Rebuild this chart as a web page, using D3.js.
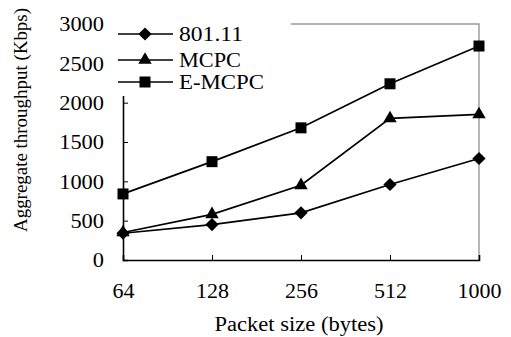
<!DOCTYPE html>
<html><head><meta charset="utf-8">
<script src="https://cdn.jsdelivr.net/npm/d3@7"></script>
<style>body{margin:0;background:#fff}svg{display:block}text{font-family:"Liberation Serif","Times New Roman",serif;fill:#000}</style>
</head><body>
<svg id="c" width="511" height="337"></svg>
<script>
const categories = ["64","128","256","512","1000"];
const s80211 = [340, 450, 600, 960, 1290];
const sMCPC = [350, 580, 950, 1800, 1850];
const sEMCPC = [840, 1250, 1680, 2240, 2720];
const yTicks = [0,500,1000,1500,2000,2500,3000];
const seriesNames = ["801.11","MCPC","E-MCPC"];
const diamond = {draw(ctx,size){const r=6.6;ctx.moveTo(0,-r);ctx.lineTo(r,0);ctx.lineTo(0,r);ctx.lineTo(-r,0);ctx.closePath();}};
const series = [
  {name: seriesNames[0], values: s80211, sym: diamond, size: 1},
  {name: seriesNames[1], values: sMCPC, sym: d3.symbolTriangle, size: 78},
  {name: seriesNames[2], values: sEMCPC, sym: d3.symbolSquare, size: 121}
];
const svg = d3.select("#c");
const L=123, R=479, T=24, B=260;
const x = d3.scalePoint().domain(categories).range([L,R]);
const y = d3.scaleLinear().domain([0,3000]).range([B,T]);
function stretch(sel, k){ sel.each(function(){ const w=this.getComputedTextLength(); d3.select(this).attr("textLength", w*k).attr("lengthAdjust","spacingAndGlyphs"); }); }
// frame top/right gray
svg.append("path").attr("d",`M${L},${T}H${R}V${B}`).attr("fill","none").attr("stroke","#999").attr("stroke-width",1.4);
// axes
const ya = svg.append("g").attr("transform",`translate(${L},0)`).call(d3.axisLeft(y).tickValues(yTicks).tickSize(-5).tickPadding(19).tickFormat(d3.format("d")));
const xa = svg.append("g").attr("transform",`translate(0,${B})`).call(d3.axisBottom(x).tickSize(-5).tickPadding(24));
[ya,xa].forEach(a=>{a.attr("font-family",null);a.select(".domain").attr("stroke","#000").attr("stroke-width",1.6);a.selectAll(".tick line").attr("stroke","#000");a.selectAll("text").attr("fill","#000");});
ya.selectAll("text").attr("font-size",20).attr("dy","0.34em");
xa.selectAll("text").attr("font-size",20);
stretch(ya.selectAll("text"),1.12);
stretch(xa.selectAll("text"),1.1);
// lines
const line = d3.line().x((d,i)=>x(categories[i])).y(d=>y(d));
series.forEach(s=>{
  svg.append("path").attr("d",line(s.values)).attr("fill","none").attr("stroke","#000").attr("stroke-width",1.7);
  svg.selectAll(null).data(s.values).enter().append("path")
    .attr("d",d3.symbol().type(s.sym).size(s.size))
    .attr("transform",(d,i)=>`translate(${x(categories[i])},${y(d)})`).attr("fill","#000");
});
// legend
const lg = svg.append("g");
lg.append("rect").attr("x",116).attr("y",20).attr("width",175).attr("height",76).attr("fill","#fff");
const ly = [34,60,82];
const lw = [64,62,85];
series.forEach((s,i)=>{
  lg.append("line").attr("x1",118).attr("x2",173).attr("y1",ly[i]).attr("y2",ly[i]).attr("stroke","#000").attr("stroke-width",1.7);
  lg.append("path").attr("d",d3.symbol().type(s.sym).size(s.size)).attr("transform",`translate(145,${ly[i]})`).attr("fill","#000");
  lg.append("text").attr("x",179).attr("y",ly[i]).attr("dy","0.34em").attr("font-size",21)
    .attr("textLength",lw[i]).attr("lengthAdjust","spacingAndGlyphs").text(s.name);
});
// titles
svg.append("text").attr("x",299).attr("y",331).attr("text-anchor","middle").attr("font-size",20)
  .attr("textLength",169).attr("lengthAdjust","spacingAndGlyphs").text("Packet size (bytes)");
svg.append("text").attr("transform","translate(20,120) rotate(-90)").attr("text-anchor","middle").attr("dy","0.35em").attr("font-size",19)
  .attr("textLength",224).attr("lengthAdjust","spacingAndGlyphs").text("Aggregate throughput (Kbps)");
</script>
</body></html>
